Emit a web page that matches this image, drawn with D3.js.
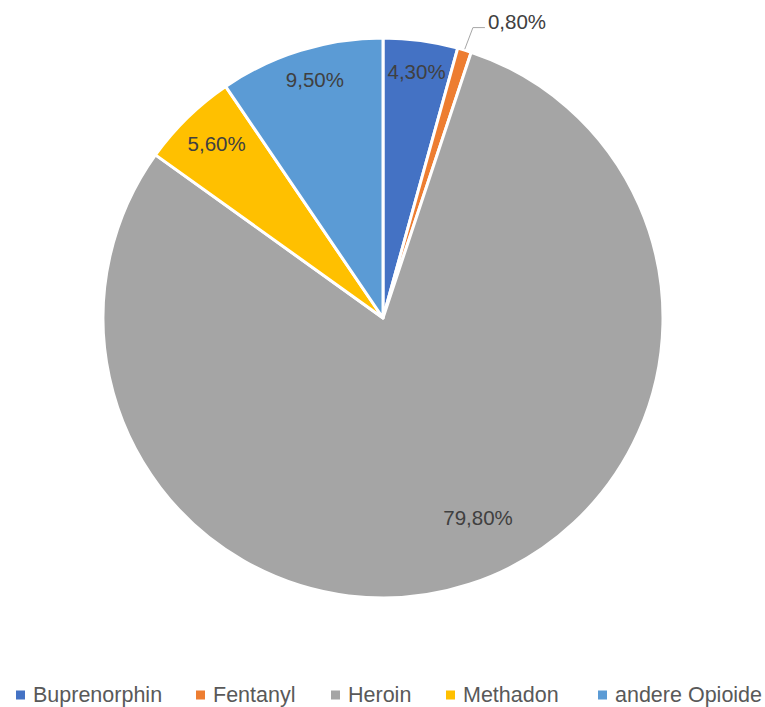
<!DOCTYPE html>
<html><head><meta charset="utf-8">
<script src="https://cdn.jsdelivr.net/npm/d3@7"></script>
<style>body{margin:0;background:#fff}svg{display:block}</style>
</head><body>
<script>
const categories = ["Buprenorphin", "Fentanyl", "Heroin", "Methadon", "andere Opioide"];
const values = [4.3, 0.8, 79.8, 5.6, 9.5];
const labels = ["4,30%", "0,80%", "79,80%", "5,60%", "9,50%"];
const colors = ["#4472C4", "#ED7D31", "#A5A5A5", "#FFC000", "#5B9BD5"];

const W = 765, H = 707, cx = 383, cy = 318, R = 280;
const svg = d3.select("body").append("svg").attr("width", W).attr("height", H);
const g = svg.append("g").attr("transform", `translate(${cx},${cy})`);

const pie = d3.pie().sort(null).value(d => d)(values);
const arc = d3.arc().innerRadius(0).outerRadius(R);
g.selectAll("path").data(pie).join("path")
  .attr("d", arc).attr("fill", (d, i) => colors[i])
  .attr("stroke", "#fff").attr("stroke-width", 3).attr("stroke-linejoin", "round");

const font = "'Liberation Sans', Arial, sans-serif";
// label placement (radius fraction, angle shift in radians)
const labelLayout = [[0.89, 0], null, [0.79, -0.13], [0.86, 0.01], [0.885, 0.02]];
pie.forEach((d, i) => {
  const lay = labelLayout[i];
  if (!lay) return;
  const a = (d.startAngle + d.endAngle) / 2 + lay[1];
  const r = R * lay[0];
  g.append("text").attr("x", r * Math.sin(a)).attr("y", -r * Math.cos(a))
    .attr("text-anchor", "middle").attr("dominant-baseline", "central")
    .attr("font-family", font).attr("font-size", 20.5).attr("fill", "#404040")
    .text(labels[i]);
});
// Fentanyl outside label with leader line
{
  const d = pie[1];
  const a = (d.startAngle + d.endAngle) / 2;
  const p0 = [(R + 1) * Math.sin(a), -(R + 1) * Math.cos(a)];
  const p1 = [(R + 24) * Math.sin(a + 0.005), -(R + 24) * Math.cos(a + 0.005)];
  const p2 = [p1[0] + 12, p1[1]];
  g.append("polyline").attr("points", [p0, p1, p2].map(p => p.join(",")).join(" "))
    .attr("fill", "none").attr("stroke", "#A6A6A6").attr("stroke-width", 1);
  g.append("text").attr("x", p2[0] + 3).attr("y", p2[1] - 6)
    .attr("dominant-baseline", "central")
    .attr("font-family", font).attr("font-size", 20.5).attr("fill", "#404040")
    .text(labels[1]);
}

// legend
const legTextX = [33, 213, 348, 463, 615];
const leg = svg.append("g");
categories.forEach((c, i) => {
  const gg = leg.append("g").attr("transform", `translate(${legTextX[i]},695)`);
  gg.append("rect").attr("x", -17).attr("y", -4.5).attr("width", 9).attr("height", 9)
    .attr("fill", colors[i]);
  gg.append("text").attr("x", 0).attr("y", 0).attr("dominant-baseline", "central")
    .attr("font-family", font).attr("font-size", 21.5).attr("fill", "#595959").text(c);
});
</script>
</body></html>
